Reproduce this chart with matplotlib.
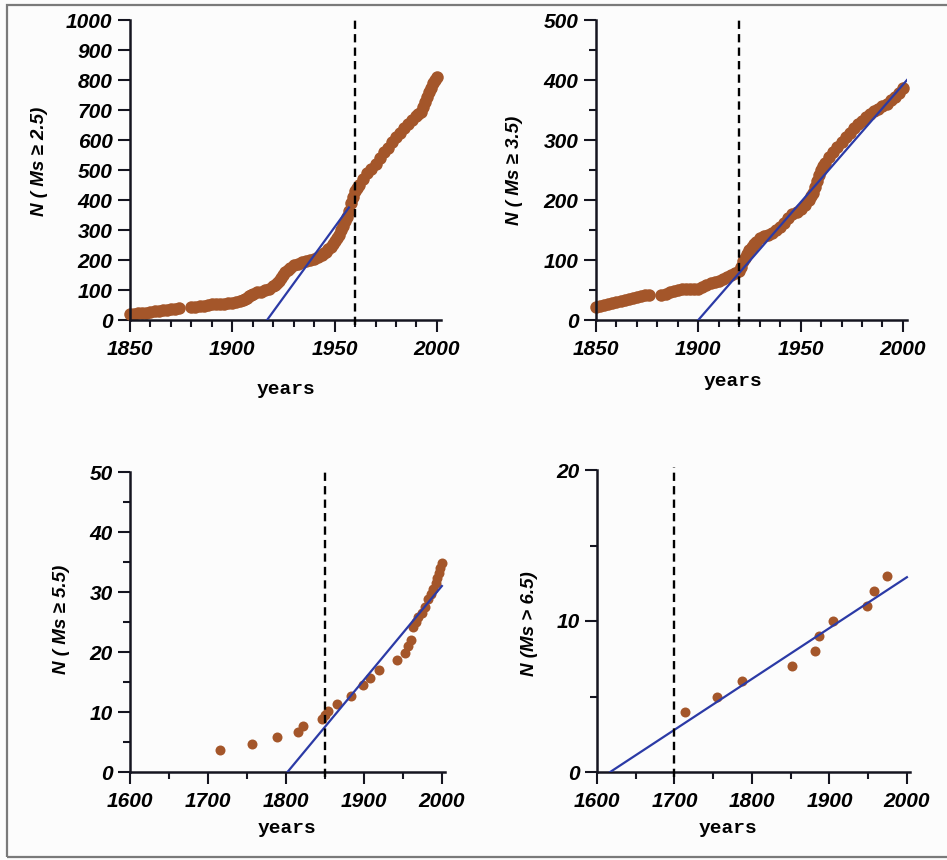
import matplotlib
matplotlib.use("Agg")
import matplotlib.pyplot as plt
from matplotlib.ticker import MultipleLocator, NullLocator
from matplotlib.patches import Rectangle

# ---------------- data ----------------
years_a = [1850, 1852, 1854, 1856, 1858, 1860, 1862, 1864, 1866, 1868, 1870, 1872, 1874,
           1880, 1882, 1884, 1886, 1888, 1890, 1892, 1894, 1896, 1898, 1900, 1902, 1904,
           1905, 1906, 1907, 1908, 1909, 1910, 1912, 1914, 1916, 1918, 1920, 1921, 1922,
           1923, 1924, 1925, 1926, 1927, 1928, 1930, 1932, 1934, 1936, 1938, 1940, 1942,
           1944, 1945, 1946, 1947, 1948, 1949, 1950, 1951, 1952, 1953, 1954, 1955, 1956,
           1957, 1958, 1959, 1960, 1961, 1962, 1964, 1966, 1968, 1970, 1972, 1974, 1976,
           1978, 1980, 1982, 1984, 1986, 1988, 1990, 1991, 1992, 1993, 1994, 1995, 1996,
           1997, 1998, 1999, 2000]
count_a = [20, 21, 22, 23, 25, 27, 29, 31, 33, 35, 37, 38, 39,
           42, 44, 46, 48, 50, 52, 53, 54, 55, 56, 57, 59, 62,
           66, 70, 75, 80, 84, 88, 92, 95, 100, 105, 112, 117, 122,
           130, 140, 150, 160, 168, 175, 182, 187, 192, 197, 200, 205, 210,
           218, 222, 228, 236, 245, 255, 265, 275, 285, 300, 315, 330, 345,
           365, 390, 410, 430, 440, 450, 470, 490, 505, 520, 540, 560, 575,
           595, 610, 625, 640, 655, 668, 680, 688, 695, 710, 728, 745, 760,
           775, 790, 800, 810]
fit_a_x = [1917, 1957]
fit_a_y = [0, 375]
break_a = 1960

years_b = [1850, 1852, 1854, 1856, 1858, 1860, 1862, 1864, 1866, 1868, 1870, 1872, 1874, 1876,
           1882, 1884, 1886, 1888, 1890, 1892, 1894, 1896, 1898, 1900, 1902, 1904, 1906,
           1908, 1910, 1912, 1914, 1916, 1918, 1920, 1921, 1922, 1923, 1924, 1925, 1926,
           1927, 1928, 1930, 1932, 1934, 1936, 1938, 1940, 1942, 1944, 1946, 1948, 1950,
           1952, 1954, 1955, 1956, 1957, 1958, 1959, 1960, 1961, 1962, 1964, 1966, 1968,
           1970, 1972, 1974, 1976, 1978, 1980, 1982, 1984, 1986, 1988, 1990, 1992, 1994,
           1996, 1998, 2000]
count_b = [22, 24, 25, 27, 29, 30, 32, 34, 35, 37, 38, 40, 41, 42,
           42, 44, 46, 48, 50, 51, 52, 52, 51, 52, 55, 58, 61,
           63, 65, 68, 72, 75, 78, 82, 88, 98, 104, 110, 116, 122,
           126, 130, 137, 140, 142, 145, 150, 155, 162, 170, 176, 180, 185,
           192, 200, 206, 212, 222, 232, 241, 250, 256, 262, 272, 280, 288,
           296, 305, 312, 320, 326, 332, 338, 343, 348, 352, 356, 360, 366,
           372, 378, 386]
fit_b_x = [1900, 2002]
fit_b_y = [0, 400]
break_b = 1920

years_c = [1715, 1757, 1788, 1816, 1822, 1846, 1850, 1854, 1865, 1884, 1899, 1908, 1919,
           1942, 1953, 1957, 1960, 1963, 1967, 1970, 1974, 1978, 1982, 1986, 1989, 1992,
           1994, 1996, 1998, 2000]
count_c = [3.7, 4.7, 5.8, 6.7, 7.7, 8.8, 9.5, 10.2, 11.4, 12.6, 14.5, 15.6, 17.0,
           18.7, 19.8, 21.0, 22.0, 24.2, 25.0, 25.8, 26.5, 27.5, 28.8, 29.6, 30.5, 31.5,
           32.3, 33.2, 34.0, 34.8]
fit_c_x = [1802, 2000]
fit_c_y = [0, 31]
break_c = 1850

years_d = [1713, 1755, 1787, 1852, 1882, 1887, 1905, 1948, 1958, 1974]
count_d = [4, 5, 6, 7, 8, 9, 10, 11, 12, 13]
fit_d_x = [1617, 2000]
fit_d_y = [0, 12.9]
break_d = 1700

labels = ["N ( Ms \u2265 2.5)", "N ( Ms \u2265 3.5)", "N ( Ms \u2265 5.5)", "N (Ms > 6.5)"]

# ---------------- style ----------------
W, H = 947, 860
DOT = "#a4562a"
BLUE = "#2b3aa6"
AX = "#151520"
fam = ["Liberation Sans", "DejaVu Sans"]

fig = plt.figure(figsize=(W / 100, H / 100), dpi=100)
fig.patch.set_facecolor("#fcfcfc")
fig.patches.append(Rectangle((7 / W, 3 / H), (W - 5) / W, (H - 8) / H, transform=fig.transFigure,
                             fill=False, edgecolor="#7a7a7a", lw=1.6))


def px_axes(left, right, bottom_px, top_px):
    return fig.add_axes([left / W, 1 - bottom_px / H, (right - left) / W, (bottom_px - top_px) / H])


panels = [
    dict(rect=(130, 441, 320, 20), xs=years_a, ys=count_a, fx=fit_a_x, fy=fit_a_y, br=break_a,
         xlim=(1850, 2002), ylim=(0, 1000), xmaj=50, xmin=10, ymaj=100, ymin=None,
         ms=9, xl=(0.50, -0.205), yl=(-0.265, 0.53), lab=labels[0]),
    dict(rect=(596, 907, 320, 20), xs=years_b, ys=count_b, fx=fit_b_x, fy=fit_b_y, br=break_b,
         xlim=(1850, 2002), ylim=(0, 500), xmaj=50, xmin=10, ymaj=100, ymin=50,
         ms=9, xl=(0.44, -0.175), yl=(-0.235, 0.50), lab=labels[1]),
    dict(rect=(130, 445, 772, 472), xs=years_c, ys=count_c, fx=fit_c_x, fy=fit_c_y, br=break_c,
         xlim=(1600, 2004), ylim=(0, 50), xmaj=100, xmin=50, ymaj=10, ymin=5,
         ms=7.2, xl=(0.50, -0.16), yl=(-0.19, 0.51), lab=labels[2]),
    dict(rect=(597, 910, 772, 470), xs=years_d, ys=count_d, fx=fit_d_x, fy=fit_d_y, br=break_d,
         xlim=(1600, 2004), ylim=(0, 20), xmaj=100, xmin=50, ymaj=10, ymin=5,
         ms=7.2, xl=(0.42, -0.16), yl=(-0.19, 0.49), lab=labels[3]),
]

for p in panels:
    l, r, b, t = p["rect"]
    ax = px_axes(l, r, b, t)
    ax.set_facecolor("none")
    ax.plot(p["xs"], p["ys"], "o", color=DOT, ms=p["ms"], mec="none", zorder=2, clip_on=False)
    ax.plot(p["fx"], p["fy"], "-", color=BLUE, lw=1.6, zorder=3)
    y0, y1 = p["ylim"]
    span = y1 - y0
    ax.plot([p["br"], p["br"]], [y0 - 0.015 * span, y1 + 0.01 * span], color="black",
            lw=1.7, ls=(0, (3.5, 2.2)), zorder=4, clip_on=False)
    ax.set_xlim(*p["xlim"])
    ax.set_ylim(*p["ylim"])
    for s in ("top", "right"):
        ax.spines[s].set_visible(False)
    for s in ("left", "bottom"):
        ax.spines[s].set_linewidth(1.8)
        ax.spines[s].set_color(AX)
    ax.xaxis.set_major_locator(MultipleLocator(p["xmaj"]))
    ax.xaxis.set_minor_locator(MultipleLocator(p["xmin"]))
    ax.yaxis.set_major_locator(MultipleLocator(p["ymaj"]))
    if p["ymin"]:
        ax.yaxis.set_minor_locator(MultipleLocator(p["ymin"]))
    else:
        ax.yaxis.set_minor_locator(NullLocator())
    ax.tick_params(which="major", direction="out", length=8.5, width=1.5, color=AX, pad=4)
    ax.tick_params(axis="x", which="major", pad=6)
    ax.tick_params(which="minor", direction="out", length=5, width=1.5, color=AX)
    for lab in ax.get_xticklabels() + ax.get_yticklabels():
        lab.set_fontfamily(fam)
        lab.set_fontstyle("italic")
        lab.set_fontweight("bold")
        lab.set_fontsize(15)
    ax.set_ylabel(p["lab"], fontsize=13.5, fontweight="bold", fontstyle="italic", family=fam)
    ax.yaxis.set_label_coords(*p["yl"])
    ax.set_xlabel("years", fontsize=14, fontweight="bold", family=["Liberation Mono", "DejaVu Sans Mono"])
    ax.xaxis.set_label_coords(*p["xl"])

fig.savefig("out.png", dpi=100, facecolor=fig.get_facecolor())
